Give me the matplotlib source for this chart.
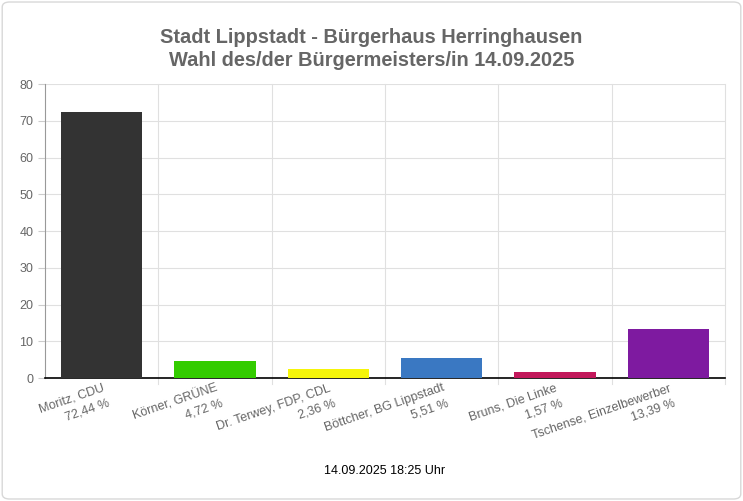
import matplotlib.pyplot as plt
from matplotlib.patches import FancyBboxPatch

plt.rcParams['font.family'] = ['Liberation Sans', 'DejaVu Sans']

# --- Daten ---
kandidaten = ['Moritz, CDU', 'Körner, GRÜNE', 'Dr. Terwey, FDP, CDL',
              'Böttcher, BG Lippstadt', 'Bruns, Die Linke', 'Tschense, Einzelbewerber']
anteile = [72.44, 4.72, 2.36, 5.51, 1.57, 13.39]
farben = ['#333333', '#33cc00', '#f5f50a', '#3a78c2', '#c2185b', '#7e1aa0']
y_ticks = [0, 10, 20, 30, 40, 50, 60, 70, 80]

fig = plt.figure(figsize=(7.43, 5.01), dpi=100)
ax = fig.add_axes([0.0606, 0.2455, 0.9152, 0.5868])

x = range(len(kandidaten))
ax.bar(x, anteile, width=0.72, color=farben, zorder=3)

ax.set_xlim(-0.5, len(kandidaten) - 0.5)
ax.set_ylim(0, 80)
ax.set_yticks(y_ticks)
ax.tick_params(axis='y', colors='#666666', labelsize=9, length=5, color='#cccccc')
ax.tick_params(axis='x', length=0, pad=3)

# Gitter: horizontal bei den Ticks, vertikal an den Kategoriegrenzen
for y in y_ticks[1:]:
    ax.axhline(y, color='#e0e0e0', linewidth=0.8, zorder=0)
for b in [i + 0.5 for i in range(len(kandidaten))]:
    ax.axvline(b, ymin=-0.02, color='#e0e0e0', linewidth=0.8, zorder=0, clip_on=False)

for s in ['top', 'right']:
    ax.spines[s].set_visible(False)
ax.spines['left'].set_color('#999999')
ax.spines['bottom'].set_color('#000000')
ax.spines['bottom'].set_linewidth(1.2)

ax.set_xticks(list(x))
ax.set_xticklabels([f'{k}\n{str(a).replace(".", ",")} %' for k, a in zip(kandidaten, anteile)],
                   rotation=19, ha='right', va='top', rotation_mode='anchor',
                   multialignment='right', color='#666666', fontsize=9, linespacing=1.4)

fig.text(0.5, 0.902, 'Stadt Lippstadt - Bürgerhaus Herringhausen\nWahl des/der Bürgermeisters/in 14.09.2025',
         ha='center', va='center', fontsize=14.4, fontweight='bold', color='#666666',
         linespacing=1.22)
fig.text(0.517, 0.06, '14.09.2025 18:25 Uhr', ha='center', va='center', fontsize=9, color='#000000')

# Rahmen um das Bild
fig.patches.append(FancyBboxPatch((0.003, 0.004), 0.994, 0.992, boxstyle='round,pad=0,rounding_size=0.01',
                                  transform=fig.transFigure, fill=False, edgecolor='#d8d8d8', linewidth=1))

fig.savefig('out.png', dpi=100)
